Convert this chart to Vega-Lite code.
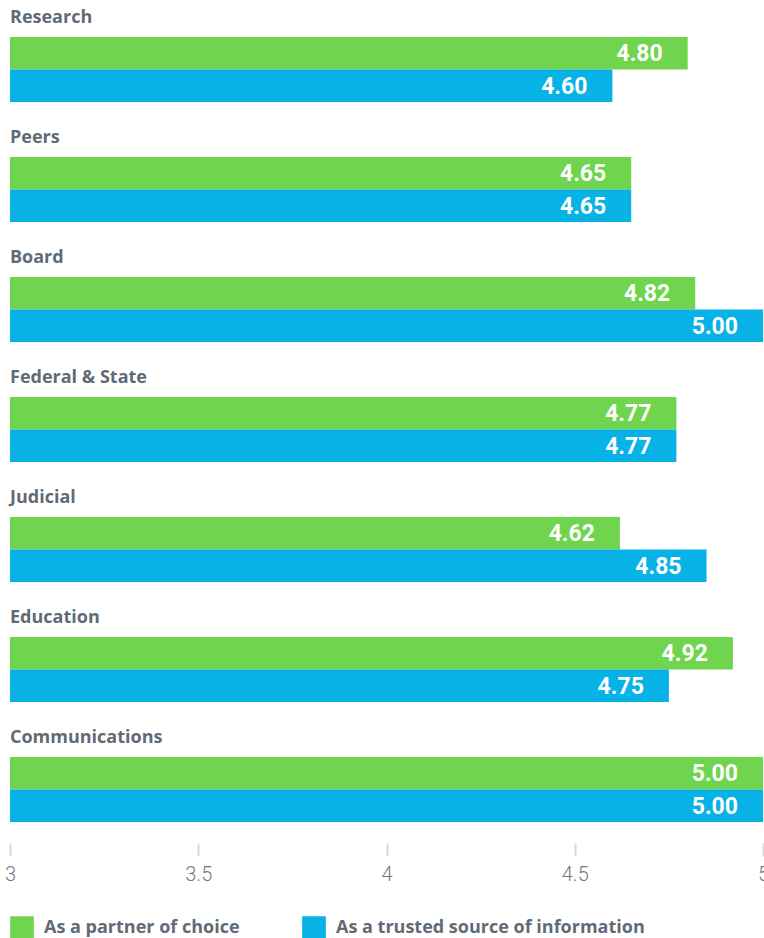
{
  "$schema": "https://vega.github.io/schema/vega-lite/v6.json",
  "padding": {"left": 4, "right": 1, "top": 0, "bottom": 0},
  "autosize": {"type": "pad"},
  "background": "white",
  "width": 753,
  "height": 840,
  "data": {
    "values": [
      {"category": "Research", "series": "As a partner of choice", "value": 4.80},
      {"category": "Research", "series": "As a trusted source of information", "value": 4.60},
      {"category": "Peers", "series": "As a partner of choice", "value": 4.65},
      {"category": "Peers", "series": "As a trusted source of information", "value": 4.65},
      {"category": "Board", "series": "As a partner of choice", "value": 4.82},
      {"category": "Board", "series": "As a trusted source of information", "value": 5.00},
      {"category": "Federal & State", "series": "As a partner of choice", "value": 4.77},
      {"category": "Federal & State", "series": "As a trusted source of information", "value": 4.77},
      {"category": "Judicial", "series": "As a partner of choice", "value": 4.62},
      {"category": "Judicial", "series": "As a trusted source of information", "value": 4.85},
      {"category": "Education", "series": "As a partner of choice", "value": 4.92},
      {"category": "Education", "series": "As a trusted source of information", "value": 4.75},
      {"category": "Communications", "series": "As a partner of choice", "value": 5.00},
      {"category": "Communications", "series": "As a trusted source of information", "value": 5.00}
    ]
  },
  "encoding": {
    "y": {
      "field": "category",
      "type": "nominal",
      "sort": ["Research", "Peers", "Board", "Federal & State", "Judicial", "Education", "Communications"],
      "axis": null,
      "scale": {"paddingInner": 0, "paddingOuter": 0}
    }
  },
  "layer": [
    {
      "mark": {"type": "bar"},
      "encoding": {
        "x": {
          "field": "value",
          "type": "quantitative",
          "scale": {"domain": [3, 5], "zero": false, "nice": false, "clamp": true},
          "axis": {
            "title": null,
            "domain": false,
            "grid": false,
            "values": [3, 3.5, 4, 4.5, 5],
            "format": "~g",
            "tickColor": "#d9d9d9",
            "tickWidth": 2,
            "tickSize": 13,
            "offset": 3,
            "labelFlush": false,
            "labelFont": "Roboto",
            "labelFontWeight": 300,
            "labelFontSize": 20,
            "labelColor": "#707a84",
            "labelPadding": 8
          }
        },
        "x2": {"datum": 3},
        "yOffset": {
          "field": "series",
          "type": "nominal",
          "sort": ["As a partner of choice", "As a trusted source of information"],
          "scale": {"paddingInner": 0, "paddingOuter": 0.846, "align": 0.673}
        },
        "color": {
          "field": "series",
          "type": "nominal",
          "scale": {
            "domain": ["As a partner of choice", "As a trusted source of information"],
            "range": ["#6fd44e", "#07b2e6"]
          },
          "legend": {
            "title": null,
            "orient": "bottom",
            "direction": "horizontal",
            "symbolType": "square",
            "symbolSize": 560,
            "symbolStrokeWidth": 0,
            "symbolOpacity": 1,
            "labelFont": "Open Sans",
            "labelFontSize": 18,
            "labelFontWeight": "bold",
            "labelColor": "#5f6b76",
            "labelLimit": 500,
            "labelOffset": 10,
            "columnPadding": 62,
            "padding": 0,
            "offset": 32
          }
        }
      }
    },
    {
      "mark": {
        "type": "text",
        "align": "right",
        "baseline": "middle",
        "dx": -25,
        "dy": 1,
        "font": "Roboto",
        "fontSize": 23,
        "fontWeight": "bold",
        "color": "white"
      },
      "encoding": {
        "x": {"field": "value", "type": "quantitative"},
        "yOffset": {
          "field": "series",
          "type": "nominal",
          "sort": ["As a partner of choice", "As a trusted source of information"]
        },
        "text": {"field": "value", "type": "quantitative", "format": ".2f"}
      }
    },
    {
      "transform": [{"filter": "datum.series == 'As a partner of choice'"}],
      "mark": {
        "type": "text",
        "align": "left",
        "baseline": "alphabetic",
        "dy": 23,
        "font": "Open Sans",
        "fontSize": 18,
        "fontWeight": "bold",
        "color": "#5f6b76"
      },
      "encoding": {
        "x": {"datum": 3},
        "y": {
          "field": "category",
          "type": "nominal",
          "sort": ["Research", "Peers", "Board", "Federal & State", "Judicial", "Education", "Communications"],
          "bandPosition": 0
        },
        "text": {"field": "category"}
      }
    }
  ],
  "config": {"view": {"stroke": null}}
}
